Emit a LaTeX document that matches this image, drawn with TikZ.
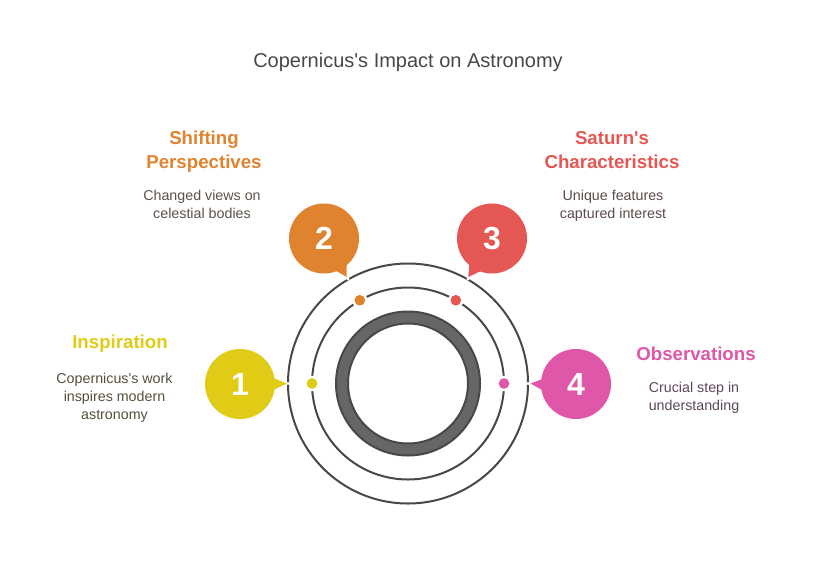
\documentclass[tikz,border=0pt]{standalone}
\usepackage{fontspec}
\setmainfont{Liberation Sans}[Ligatures=TeXOff]
\definecolor{ringc}{HTML}{484848}
\definecolor{bandc}{HTML}{666666}
\definecolor{yelc}{HTML}{E0CB15}
\definecolor{orac}{HTML}{E0832F}
\definecolor{redc}{HTML}{E55753}
\definecolor{pinkc}{HTML}{DE57A8}
\definecolor{tyel}{HTML}{55503A}
\definecolor{tora}{HTML}{5E5248}
\definecolor{tred}{HTML}{5E4A4A}
\definecolor{tpin}{HTML}{5E4858}
\newcommand{\bnum}[1]{\raisebox{-1.25pt}{#1}}
\tikzset{
 x=0.75pt,y=-0.75pt,
 ringline/.style={draw=ringc,line width=1.5pt,fill=none},
 bubble/.style={circle,minimum size=52.5pt,inner sep=0pt,text=white,font=\bfseries\fontsize{24}{24}\selectfont},
 head/.style={font=\bfseries\fontsize{14}{18}\selectfont,align=center},
 desc/.style={font=\fontsize{10.7}{13.5}\selectfont,align=center},
 dotmark/.style={circle,minimum size=8pt,inner sep=0pt},
 halo/.style={circle,fill=white,minimum size=11.5pt,inner sep=0pt},
 tipgap/.style={circle,fill=white,minimum size=2.6pt,inner sep=0pt},
}
\begin{document}
\begin{tikzpicture}
\useasboundingbox (0,0) rectangle (816,564);
\fill[white] (0,0) rectangle (816,564);
\node[font=\fontsize{15}{18}\selectfont,text=ringc] (title) at (408,62) {Copernicus's Impact on Astronomy};
% rings
\coordinate (c) at (408,383.5);
\draw[ringline] (c) circle[radius=120];
\draw[ringline] (c) circle[radius=96];
\draw[draw=bandc,line width=9pt] (c) circle[radius=66];
\draw[ringline] (c) circle[radius=72];
\draw[ringline] (c) circle[radius=60];
% gaps
\node[halo] at (312,383.5) {};
\node[halo] at (359.8,300.3) {};
\node[halo] at (455.8,300.3) {};
\node[halo] at (504,383.5) {};
\node[tipgap] at (288,383.5) {};
\node[tipgap] at (348,279) {};
\node[tipgap] at (468,279) {};
\node[tipgap] at (528,383.5) {};
% dots
\node[dotmark,fill=yelc] (d1) at (312,383.5) {};
\node[dotmark,fill=orac] (d2) at (359.8,300.3) {};
\node[dotmark,fill=redc] (d3) at (455.8,300.3) {};
\node[dotmark,fill=pinkc] (d4) at (504,383.5) {};
% tails
\fill[yelc] (268,376) -- (287,383.5) -- (268,392.3) -- cycle;
\fill[orac] (330,267.3) -- (346.7,277) -- (346.7,258) -- cycle;
\fill[redc] (485,269) -- (468.3,277) -- (470,258) -- cycle;
\fill[pinkc] (548,377) -- (530.7,383.5) -- (548,393.5) -- cycle;
% bubbles
\node[bubble,fill=yelc] (b1) at (240,384) {\bnum{1}};
\node[bubble,fill=orac] (b2) at (324,238.5) {\bnum{2}};
\node[bubble,fill=redc] (b3) at (492,238.5) {\bnum{3}};
\node[bubble,fill=pinkc] (b4) at (576,384) {\bnum{4}};
% texts
\node[head,text=yelc] (h1) at (120,343.5) {Inspiration};
\node[desc,text=tyel] (t1) at (114.5,398) {Copernicus's work\\inspires modern\\astronomy};
\node[head,text=orac] (h2) at (204,152) {Shifting\\Perspectives};
\node[desc,text=tora] (t2) at (202,204) {Changed views on\\celestial bodies};
\node[head,text=redc] (h3) at (612,150) {Saturn's\\Characteristics};
\node[desc,text=tred] (t3) at (613,206) {Unique features\\captured interest};
\node[head,text=pinkc] (h4) at (696,354) {Observations};
\node[desc,text=tpin] (t4) at (694,398) {Crucial step in\\understanding};
\end{tikzpicture}
\end{document}
